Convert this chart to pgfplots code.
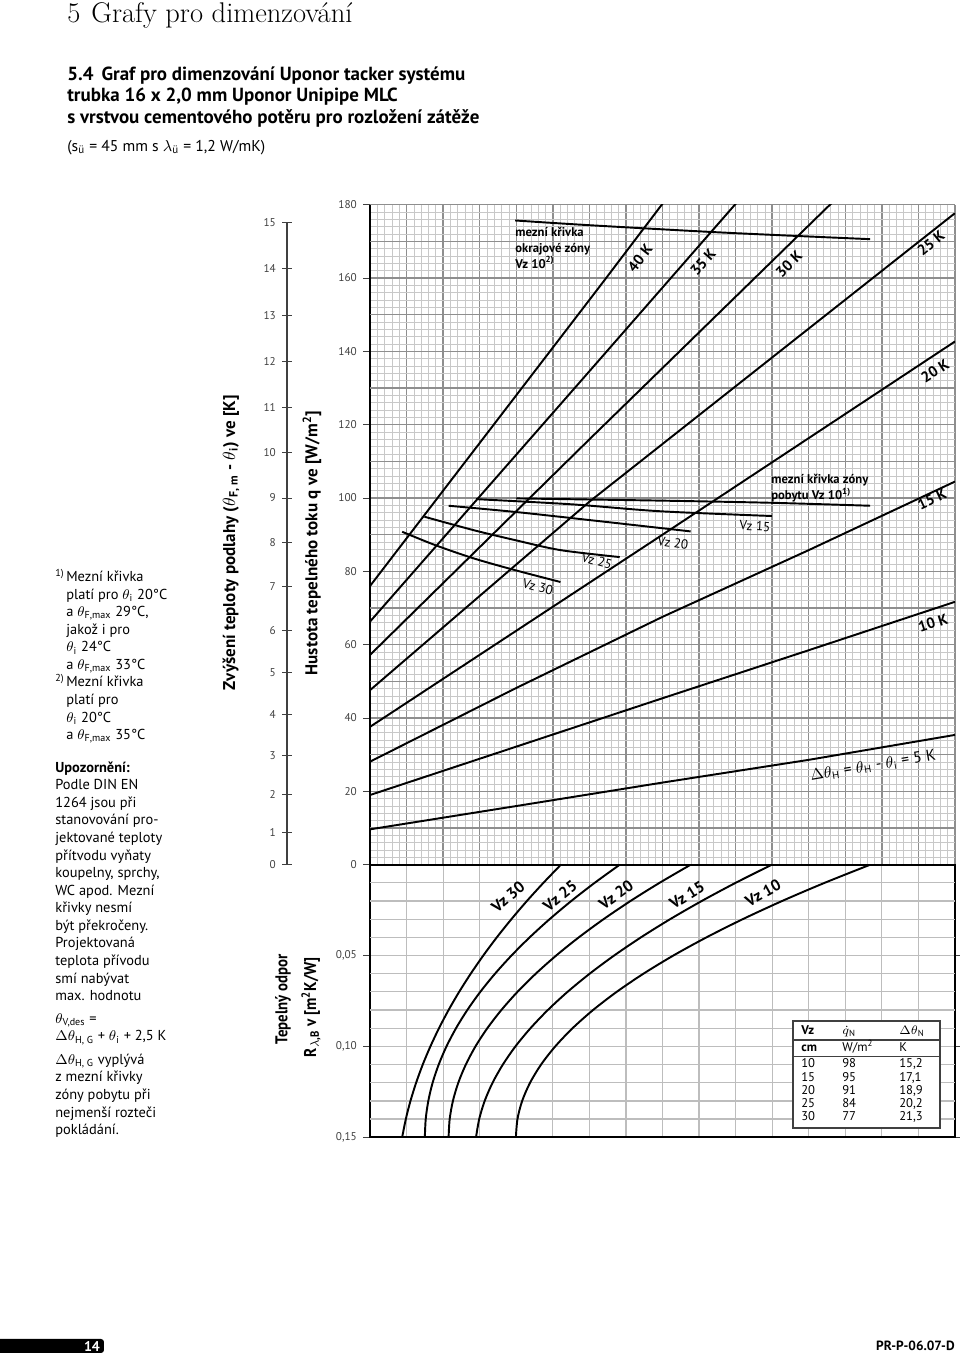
\documentclass[border=0pt]{standalone}
\usepackage{fontspec}
\usepackage{graphicx}
\usepackage{pgfplots}
\pgfplotsset{compat=1.18}
\newfontfamily\pts{PT Sans}
\definecolor{gmaj}{HTML}{8E8E8E}
\definecolor{gmin}{HTML}{C8C8C8}
\definecolor{gbot}{HTML}{BDBDBD}
\definecolor{tk}{HTML}{404040}
\newcommand{\fs}[2]{\fontsize{#1}{#2}\selectfont}
\newcommand{\thi}{$\theta$\textsubscript{i}}
\newcommand{\thF}{$\theta$\textsubscript{F,max}}

\pgfplotsset{
  curve/.style={black, line width=1.1pt},
  base/.style={
    scale only axis, width=117mm,
    xmin=0, xmax=16,
    xtick={0,...,16}, xticklabels={},
    xtick style={draw=none},
    tick align=outside, major tick length=1.4mm,
    ytick style={tk, line width=0.5pt},
    yticklabel style={font=\pts\fs{6.4}{7}, text=tk},
  },
}

\begin{document}
\begin{tikzpicture}
\path[use as bounding box] (0,0) rectangle (192mm,-271.2mm);

% temperature rise scale (positions in q units)
\begin{axis}[
  at={(57.4mm,-172.94mm)}, anchor=south west,
  scale only axis, width=0.2mm, height=128.5mm,
  xmin=0, xmax=1, ymin=0, ymax=175.2,
  hide x axis, axis y line*=left,
  y axis line style={tk, line width=0.6pt, -},
  ytick={0,8.92,19.12,29.87,40.99,52.39,63.97,75.85,87.85,100.01,112.30,124.70,137.23,149.86,162.6,175.2},
  yticklabels={0,1,2,3,4,5,6,7,8,9,10,11,12,13,14,15},
  tick align=center, major tick length=2mm,
  ytick style={tk, line width=0.5pt},
  yticklabel style={font=\pts\fs{6.4}{7}, text=tk},
]
\end{axis}

% heat flux section
\begin{axis}[base,
  at={(74mm,-172.94mm)}, anchor=south west,
  height=132mm,
  ymin=0, ymax=180,
  ytick={0,20,...,180},
  yticklabels={0,20,40,60,80,100,120,140,160,180},
  extra y ticks={10,30,...,170}, extra y tick labels={},
  extra y tick style={grid=major, major tick length=0pt},
  minor x tick num=4, minor y tick num=9, minor tick length=0pt,
  grid=both,
  major grid style={gmaj, line width=0.8pt},
  minor grid style={gmin, line width=0.4pt},
  axis x line*=bottom, axis y line*=left,
  x axis line style={black, line width=0.9pt, -},
  y axis line style={black, line width=0.9pt, -},
]
% Delta theta_H lines
\addplot[curve] coordinates {(0,9.65) (4,16.0) (8,22.4) (12,28.6) (16,35.4)};
\addplot[curve] coordinates {(0,19.0) (4,32.2) (8,45.4) (12,58.5) (16,71.7)};
\addplot[curve] coordinates {(0,28.1) (4,48.2) (8,67.6) (12,85.8) (16,104.5)};
\addplot[curve] coordinates {(0,37.6) (8,90.0) (16,142.7)};
\addplot[curve] coordinates {(0,47.6) (6,99.0) (16,177.7)};
\addplot[curve] coordinates {(0,57.2) (6.02,116.2) (12.58,180) (16,213.3)};
\addplot[curve] coordinates {(0,66.3) (6.02,134.8) (9.98,180) (12,203)};
\addplot[curve] coordinates {(0,76.0) (6.29,157.8) (7.98,180) (10,206)};
% limit curves
\addplot[curve, smooth] coordinates {(3.97,175.7) (6.02,174.4) (9.66,172.4) (13.68,170.6)};
\addplot[curve, smooth] coordinates {(4.0,99.9) (7.93,99.3) (11,98.7) (13.68,97.9)};
\addplot[curve, smooth] coordinates {(2.9,99.7) (5.5,98.3) (7.93,96.4) (10.99,95.1)};
\addplot[curve, smooth] coordinates {(2.15,97.9) (3.98,96.2) (6.0,94.0) (8.77,90.9)};
\addplot[curve, smooth] coordinates {(1.49,94.9) (2.85,91.2) (3.98,88.5) (5.21,85.8) (6.83,83.9)};
\addplot[curve, smooth] coordinates {(0.88,90.8) (1.80,87.1) (2.85,83.5) (3.98,80.3) (5.21,77.1)};
\end{axis}

% thermal resistance section
\begin{axis}[base,
  at={(74mm,-172.94mm)}, anchor=north west,
  height=54.5mm,
  ymin=0, ymax=0.15, y dir=reverse,
  ytick={0.05,0.10,0.15},
  yticklabels={{0,05},{0,10},{0,15}},
  extra y ticks={0.01,0.02,0.03,0.04,0.06,0.07,0.08,0.09,0.11,0.12,0.13,0.14},
  extra y tick labels={},
  extra y tick style={grid=major, major tick length=0pt},
  grid=major,
  major grid style={gbot, line width=0.7pt},
  axis line style={black, line width=0.9pt},
]
% Vz 30
\addplot[curve, smooth] coordinates {(5.220,0) (4.742,0.01) (4.290,0.02) (3.866,0.03) (3.468,0.04) (3.098,0.05) (2.755,0.06) (2.438,0.07) (2.149,0.08) (1.887,0.09) (1.652,0.10) (1.443,0.11) (1.262,0.12) (1.107,0.13) (0.980,0.14) (0.880,0.15)};
% Vz 25
\addplot[curve, smooth] coordinates {(6.830,0) (6.143,0.01) (5.503,0.02) (4.911,0.03) (4.366,0.04) (3.869,0.05) (3.419,0.06) (3.016,0.07) (2.661,0.08) (2.353,0.09) (2.092,0.10) (1.879,0.11) (1.713,0.12) (1.595,0.13) (1.524,0.14) (1.500,0.15)};
% Vz 20
\addplot[curve, smooth] coordinates {(8.770,0) (7.917,0.01) (7.122,0.02) (6.387,0.03) (5.710,0.04) (5.092,0.05) (4.533,0.06) (4.033,0.07) (3.592,0.08) (3.209,0.09) (2.885,0.10) (2.621,0.11) (2.415,0.12) (2.268,0.13) (2.179,0.14) (2.150,0.15)};
% Vz 15
\addplot[curve, smooth] coordinates {(10.990,0) (9.997,0.01) (9.070,0.02) (8.207,0.03) (7.409,0.04) (6.676,0.05) (6.007,0.06) (5.402,0.07) (4.863,0.08) (4.389,0.09) (3.978,0.10) (3.634,0.11) (3.353,0.12) (3.137,0.13) (2.987,0.14) (2.900,0.15)};
% Vz 10
\addplot[curve, smooth] coordinates {(13.680,0) (12.431,0.01) (11.268,0.02) (10.192,0.03) (9.201,0.04) (8.296,0.05) (7.478,0.06) (6.746,0.07) (6.100,0.08) (5.540,0.09) (5.067,0.10) (4.679,0.11) (4.378,0.12) (4.162,0.13) (4.033,0.14) (3.990,0.15)};
\end{axis}

\begin{scope}[x=0.2mm, y=-0.2mm]
% page headings
\node[anchor=base west, inner sep=0, font=\fs{16.2}{17}] at (67,22) {5};
\node[anchor=base west, inner sep=0, font=\fs{16.2}{17}] at (91,22) {Grafy pro dimenzování};
\node[anchor=base west, inner sep=0, font=\pts\bfseries\fs{10.8}{12}] at (67,80) {5.4\hspace{1.6mm}Graf pro dimenzování Uponor tacker systému};
\node[anchor=base west, inner sep=0, font=\pts\bfseries\fs{10.8}{12}] at (67,101.5) {trubka 16 x 2,0 mm Uponor Unipipe MLC};
\node[anchor=base west, inner sep=0, font=\pts\bfseries\fs{10.8}{12}] at (67,123) {s vrstvou cementového potěru pro rozložení zátěže};
\node[anchor=base west, inner sep=0, font=\pts\fs{8.9}{11}] at (67,151) {(s\textsubscript{ü} = 45 mm s $\lambda$\textsubscript{ü} = 1,2 W/mK)};

% notes
\node[anchor=north west, inner sep=0, align=left, font=\pts\fs{8.2}{10}] at (55,569) {%
\makebox[2.2mm][l]{\textsuperscript{1)}}Mezní křivka\\
\hspace*{2.2mm}platí pro \thi\ 20°C\\
\hspace*{2.2mm}a \thF\ 29°C,\\
\hspace*{2.2mm}jakož i pro\\
\hspace*{2.2mm}\thi\ 24°C\\
\hspace*{2.2mm}a \thF\ 33°C\\
\makebox[2.2mm][l]{\textsuperscript{2)}}Mezní křivka\\
\hspace*{2.2mm}platí pro\\
\hspace*{2.2mm}\thi\ 20°C\\
\hspace*{2.2mm}a \thF\ 35°C\\[3mm]
\textbf{Upozornění:}\\
Podle DIN EN\\
1264 jsou při\\
stanovování pro-\\
jektované teploty\\
přítvodu vyňaty\\
koupelny, sprchy,\\
WC apod. Mezní\\
křivky nesmí\\
být překročeny.\\
Projektovaná\\
teplota přívodu\\
smí nabývat\\
max. hodnotu\\[1mm]
$\theta$\textsubscript{V,des} =\\
$\Delta\theta$\textsubscript{H, G} + \thi\ + 2,5 K\\[1.2mm]
$\Delta\theta$\textsubscript{H, G} vyplývá\\
z mezní křivky\\
zóny pobytu při\\
nejmenší rozteči\\
pokládání.};

% axis titles
\node[rotate=90, font=\pts\bfseries\fs{9.7}{11}] at (231,543) {Zvýšení teploty podlahy ($\theta$\textsubscript{F, m} - $\theta$\textsubscript{i}) ve [K]};
\node[rotate=90, font=\pts\bfseries\fs{9.7}{11}] at (312,543) {Hustota tepelného toku q ve [W/m\textsuperscript{2}]};
\node[rotate=90, anchor=east, font=\pts\bfseries\fs{9.7}{11}] at (283,948) {\scalebox{0.87}[1]{Tepelný odpor}};
\node[rotate=90, anchor=east, font=\pts\bfseries\fs{9.7}{11}] at (311,951) {\scalebox{0.9}[1]{R\textsubscript{$\lambda$,B} v [m\textsuperscript{2}K/W]}};

% curve labels
\node[anchor=north west, inner sep=0, align=left, font=\pts\bfseries\fs{7.2}{9}] at (515,227) {mezní křivka\\okrajové zóny\\Vz 10\textsuperscript{2)}};
\node[anchor=north west, inner sep=0, align=left, font=\pts\bfseries\fs{7.2}{9}] at (771,474) {mezní křivka zóny\\pobytu Vz 10\textsuperscript{1)}};
\begin{scope}[every node/.style={font=\pts\bfseries\fs{8.5}{9}}]
\node[rotate=52] at (640,258) {40 K};
\node[rotate=49] at (703,262) {35 K};
\node[rotate=44] at (789,264) {30 K};
\node[rotate=39] at (931,243) {25 K};
\node[rotate=33] at (935,371) {20 K};
\node[rotate=25] at (932,499) {15 K};
\node[rotate=18] at (933,623) {10 K};
\end{scope}
\node[rotate=9.5, font=\pts\fs{9}{10}] at (873,766) {$\Delta\theta$\textsubscript{H} = $\theta$\textsubscript{H} - \thi\ = 5 K};
\begin{scope}[every node/.style={font=\pts\fs{7.5}{9}}]
\node[rotate=-3] at (755,526) {Vz 15};
\node[rotate=-8] at (673,543) {Vz 20};
\node[rotate=-15] at (597,561) {Vz 25};
\node[rotate=-15] at (538,587) {Vz 30};
\end{scope}
\begin{scope}[every node/.style={font=\pts\bfseries\fs{9}{10}, inner sep=0}]
\node[rotate=40] at (508,897) {Vz 30};
\node[rotate=39] at (560,896) {Vz 25};
\node[rotate=36] at (616,895) {Vz 20};
\node[rotate=32] at (687,895) {Vz 15};
\node[rotate=29] at (763,893) {Vz 10};
\end{scope}

% table
\draw[fill=white, draw=tk, line width=0.6pt] (793,1021) rectangle (940,1128);
\draw[tk, line width=0.6pt] (793,1040) -- (940,1040);
\draw[tk, line width=0.6pt] (793,1056.5) -- (940,1056.5);
\begin{scope}[every node/.style={anchor=base west, inner sep=0, font=\pts\fs{7.2}{8}}]
\node at (801,1034.5) {\textbf{Vz}};
\node at (842,1034.5) {$\dot q$\textsubscript{N}};
\node at (899,1034.5) {$\Delta\theta$\textsubscript{N}};
\node at (801,1052) {\textbf{cm}};
\node at (842,1052) {W/m\textsuperscript{2}};
\node at (899,1052) {K};
\node at (801,1068) {10}; \node at (842,1068) {98}; \node at (899,1068) {15,2};
\node at (801,1081.2) {15}; \node at (842,1081.2) {95}; \node at (899,1081.2) {17,1};
\node at (801,1094.2) {20}; \node at (842,1094.2) {91}; \node at (899,1094.2) {18,9};
\node at (801,1107.2) {25}; \node at (842,1107.2) {84}; \node at (899,1107.2) {20,2};
\node at (801,1120.2) {30}; \node at (842,1120.2) {77}; \node at (899,1120.2) {21,3};
\end{scope}

% footer
\fill[black, rounded corners=0.6mm] (-10,1339) rectangle (104,1353);
\node[text=white, font=\pts\bfseries\fs{8}{9}] at (92,1346) {14};
\node[anchor=east, inner sep=0, font=\pts\bfseries\fs{7.6}{9}] at (955,1346) {PR-P-06.07-D};
\end{scope}
\end{tikzpicture}
\end{document}
